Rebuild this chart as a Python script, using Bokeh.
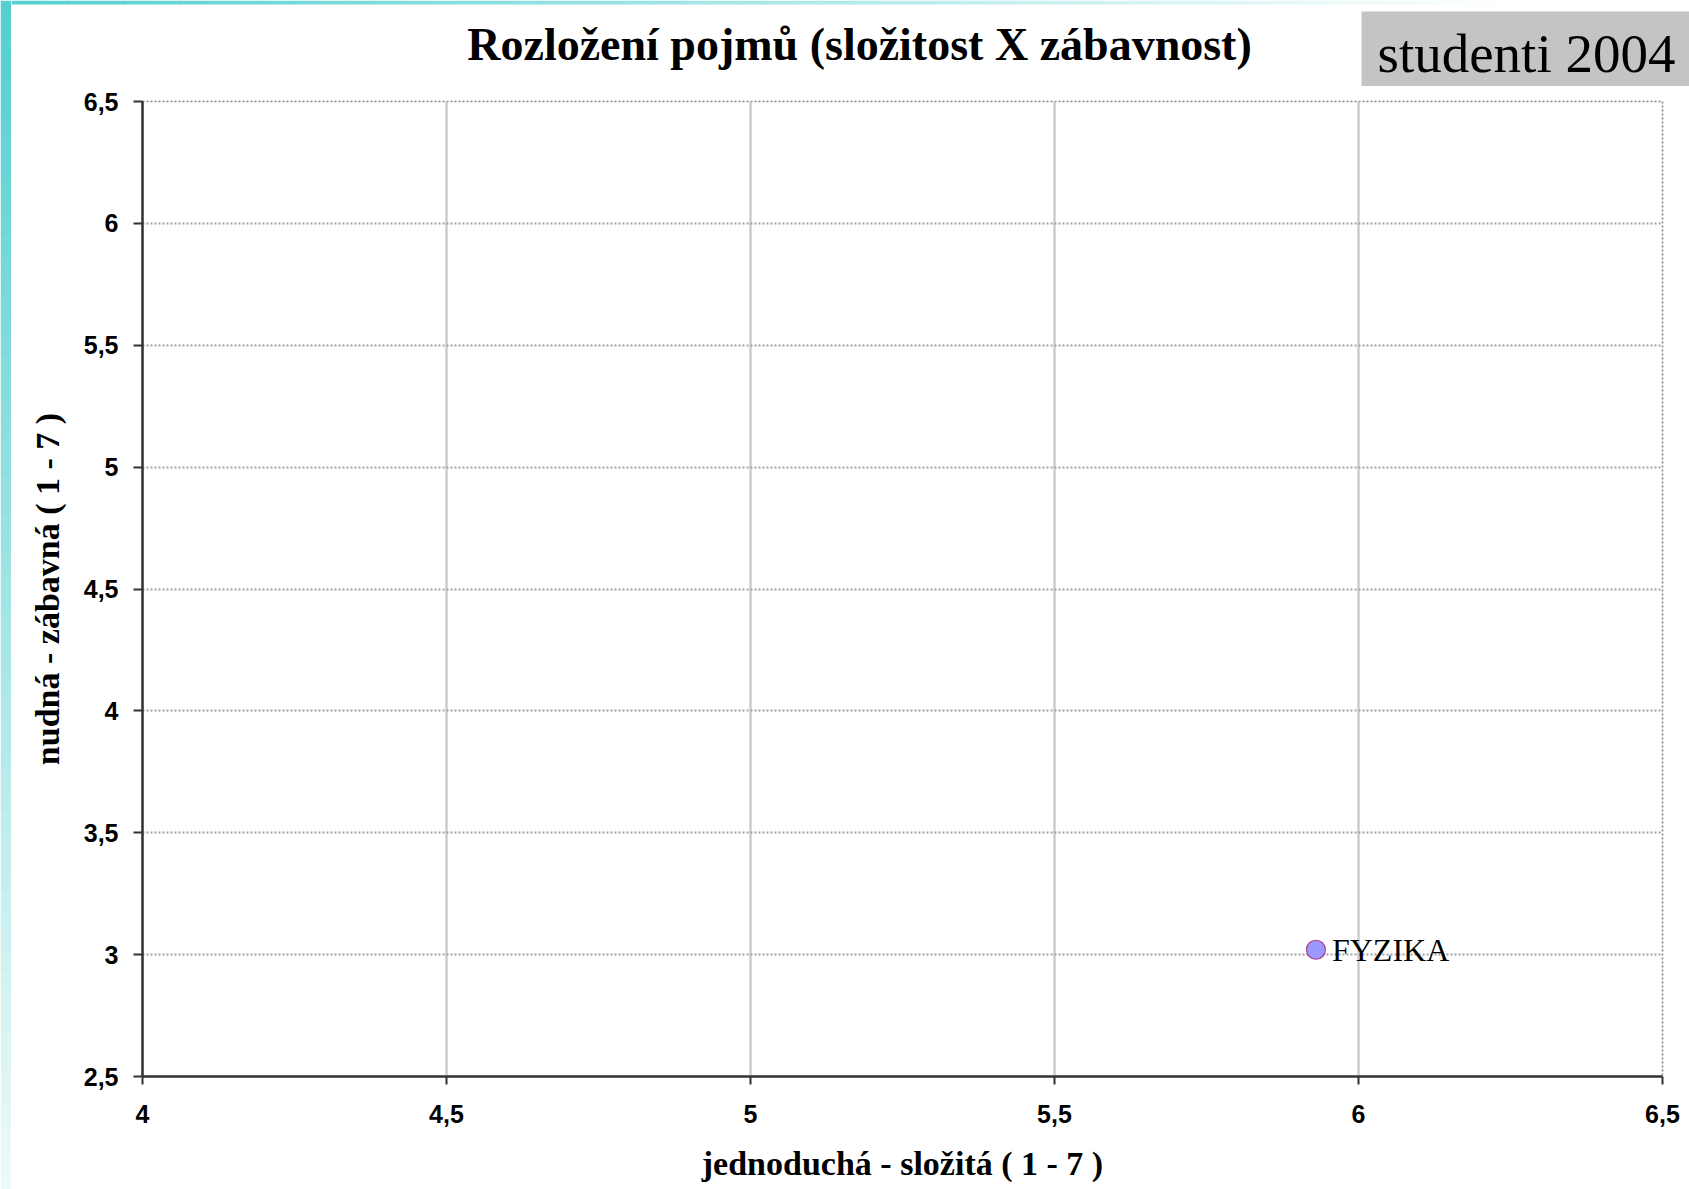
from bokeh.plotting import figure
from bokeh.layouts import column, row
from bokeh.models import FixedTicker, Label, Range1d, ColumnDataSource
from bokeh.core.properties import value
from bokeh.embed import file_html
from bokeh.resources import INLINE

# ---- data ----
names = ["FYZIKA"]
complexity = [5.93]      # jednoduchá - složitá
fun = [3.02]             # nudná - zábavná

x_ticks = [4, 4.5, 5, 5.5, 6, 6.5]
x_tick_labels = ["4", "4,5", "5", "5,5", "6", "6,5"]
y_ticks = [2.5, 3, 3.5, 4, 4.5, 5, 5.5, 6, 6.5]
y_tick_labels = ["2,5", "3", "3,5", "4", "4,5", "5", "5,5", "6", "6,5"]

title_text = "Rozložení pojmů (složitost X zábavnost)"
badge_text = "studenti 2004"
x_label = "jednoduchá - složitá ( 1 - 7 )"
y_label = "nudná - zábavná ( 1 - 7 )"

serif = "Liberation Serif"
sans = "Liberation Sans"

W, H = 1689, 1189
HEAD_H = 86
STRIP_W = 11
TOP_B, FRAME_H, BOT_B = 15, 975, 113
TEAL = (84, 207, 208)
PALE = (238, 249, 249)


def mix(c1, c2, t):
    t = max(0.0, min(1.0, t))
    return "#%02x%02x%02x" % tuple(int(round(a + (b - a) * t)) for a, b in zip(c1, c2))


def bare(fig):
    fig.xgrid.visible = False
    fig.ygrid.visible = False
    fig.outline_line_color = None
    fig.min_border = 0
    fig.frame_align = False
    return fig


def top_color(x):
    return mix(TEAL, (255, 255, 255), (x / W) / 0.9)


# ---- left teal strip, full height ----
strip = bare(figure(width=STRIP_W, height=H, x_range=Range1d(0, STRIP_W),
                    y_range=Range1d(H, 0), x_axis_location=None, y_axis_location=None,
                    output_backend="svg", toolbar_location=None,
                    background_fill_color="white", border_fill_color="white"))
k = 60
st, sb, sc = [], [], []
for i in range(k):
    a = H * i / k
    b = H * (i + 1) / k + 0.5
    st.append(a)
    sb.append(b)
    sc.append(mix(TEAL, PALE, ((a + b) / 2) / H))
strip.quad(left=[0] * k, right=[STRIP_W] * k, top=st, bottom=sb, fill_color=sc, line_color=None)

# ---- header: title + badge + top of the teal frame ----
head = bare(figure(width=W - STRIP_W, height=HEAD_H, x_range=Range1d(STRIP_W, W),
                   y_range=Range1d(HEAD_H, 0),
                   x_axis_location=None, y_axis_location=None,
                   output_backend="svg", toolbar_location=None,
                   background_fill_color="white", border_fill_color="white"))
n = 60
tl, tr, tc = [], [], []
for i in range(n):
    a = STRIP_W + (W - STRIP_W) * i / n
    b = STRIP_W + (W - STRIP_W) * (i + 1) / n + 1
    tl.append(a)
    tr.append(b)
    tc.append(top_color((a + b) / 2))
head.quad(left=tl, right=tr, top=[0] * n, bottom=[4] * n, fill_color=tc, line_color=None)

head.quad(left=[1361], right=[W], top=[11], bottom=[HEAD_H], fill_color="#c4c4c4", line_color=None)
head.add_layout(Label(x=1377, y=53, text=badge_text, text_font=serif, text_font_size="55px",
                      text_color="black", text_align="left", text_baseline="alphabetic"))
head.add_layout(Label(x=859, y=44, text=title_text, text_font=serif, text_font_size="46px",
                      text_font_style="bold", text_color="black", text_align="center",
                      text_baseline="alphabetic"))

# ---- main chart ----
p = figure(frame_width=1520, frame_height=FRAME_H,
           min_border_left=142 - STRIP_W, min_border_right=27,
           min_border_top=TOP_B, min_border_bottom=BOT_B,
           x_range=Range1d(4, 6.5), y_range=Range1d(2.5, 6.5),
           output_backend="svg", toolbar_location=None,
           background_fill_color="white", border_fill_color="white")
p.frame_align = False

for ax in (p.xaxis[0], p.yaxis[0]):
    ax.axis_line_color = "#333333"
    ax.axis_line_width = 2.5
    ax.major_tick_line_color = "#333333"
    ax.major_tick_line_width = 2
    ax.major_tick_in = 0
    ax.minor_tick_line_color = None
    ax.major_label_text_font = sans
    ax.major_label_text_font_style = "bold"
    ax.major_label_text_font_size = "25px"
    ax.major_label_text_color = "black"
    ax.axis_label_text_font = serif
    ax.axis_label_text_font_style = "bold"
    ax.axis_label_text_font_size = "34px"
    ax.axis_label_text_color = "black"

p.xaxis.ticker = FixedTicker(ticks=x_ticks)
p.xaxis.major_label_overrides = dict(zip(x_ticks, x_tick_labels))
p.yaxis.ticker = FixedTicker(ticks=y_ticks)
p.yaxis.major_label_overrides = dict(zip(y_ticks, y_tick_labels))
p.xaxis.major_tick_out = 8
p.yaxis.major_tick_out = 9
p.xaxis.major_label_standoff = 20
p.yaxis.major_label_standoff = 15
p.xaxis.axis_label = x_label
p.yaxis.axis_label = y_label
p.xaxis.axis_label_standoff = 19
p.yaxis.axis_label_standoff = 15

p.xgrid.grid_line_color = "#cccccc"
p.xgrid.grid_line_width = 2.5
p.ygrid.grid_line_color = "#a0a0a0"
p.ygrid.grid_line_width = 2
p.ygrid.grid_line_dash = "2 2"

p.outline_line_color = "#808080"
p.outline_line_width = 1.5
p.outline_line_dash = "2 2"

src = ColumnDataSource(dict(x=complexity, y=fun, name=names))
p.scatter("x", "y", source=src, marker="circle", size=19,
          fill_color="#9999ff", line_color="#b0408a", line_width=1.2)
p.text("x", "y", text="name", source=src, x_offset=16,
       text_baseline="middle", text_align="left",
       text_font=value(serif), text_font_size="32px", text_color="black")

layout = row(strip, column(head, p, spacing=0), spacing=0)

open("out.html", "w").write(file_html(layout, INLINE))
